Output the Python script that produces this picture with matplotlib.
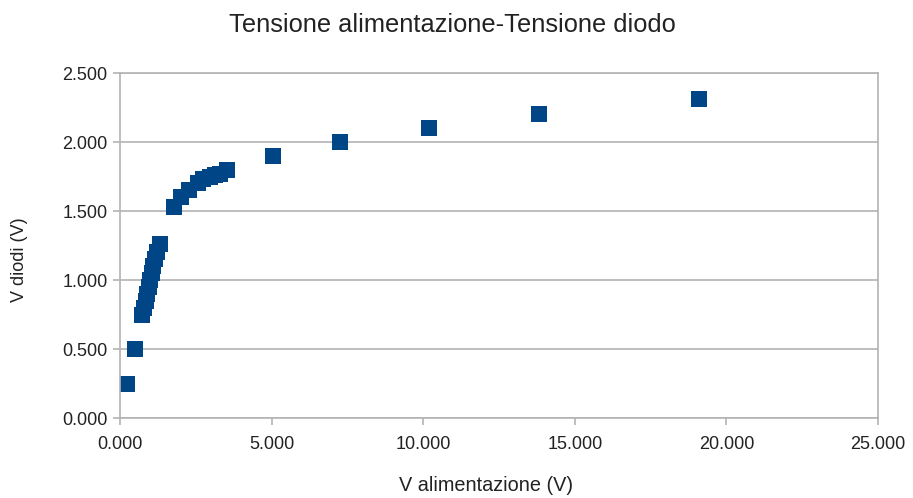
import matplotlib
matplotlib.use("Agg")
import matplotlib.pyplot as plt
from matplotlib.ticker import FuncFormatter, MultipleLocator

plt.rcParams['font.family'] = ['Liberation Sans', 'DejaVu Sans']

# supply voltage (V) and diode voltage (V)
v_alimentazione = [0.24, 0.50, 0.74, 0.80, 0.85, 0.90, 0.95, 1.00, 1.05, 1.10, 1.16, 1.22, 1.31,
                   1.78, 2.02, 2.27, 2.57, 2.74, 2.96, 3.12, 3.29, 3.54,
                   5.06, 7.27, 10.19, 13.83, 19.1]
v_diodi = [0.25, 0.50, 0.75, 0.80, 0.85, 0.90, 0.95, 1.00, 1.05, 1.10, 1.15, 1.20, 1.26,
           1.53, 1.60, 1.65, 1.70, 1.73, 1.75, 1.76, 1.77, 1.80,
           1.90, 2.00, 2.10, 2.20, 2.31]

title = "Tensione alimentazione-Tensione diodo"
xlabel = "V alimentazione (V)"
ylabel = "V diodi (V)"

fig = plt.figure(figsize=(9.13, 4.98), dpi=100)
ax = fig.add_axes([120 / 913, 1 - 418 / 498, 758 / 913, 345 / 498])

ax.plot(v_alimentazione, v_diodi, linestyle="none", marker="s", markersize=11.3,
        color="#004586", markeredgewidth=0)

ax.set_xlim(0, 25)
ax.set_ylim(0, 2.5)
ax.xaxis.set_major_locator(MultipleLocator(5))
ax.yaxis.set_major_locator(MultipleLocator(0.5))
fmt = FuncFormatter(lambda v, p: f"{v:.3f}")
ax.xaxis.set_major_formatter(fmt)
ax.yaxis.set_major_formatter(fmt)

ax.grid(axis="y", color="#b3b3b3", linewidth=1.2)
ax.set_axisbelow(True)
for s in ax.spines.values():
    s.set_color("#b3b3b3")
    s.set_linewidth(1.2)
ax.tick_params(axis="both", colors="#b3b3b3", labelcolor="#222222", labelsize=13,
               length=5, width=1.2, direction="out")
ax.tick_params(axis="x", pad=8)
ax.tick_params(axis="y", pad=4)

fig.text(452 / 913, 1 - 25 / 498, title, ha="center", va="center", fontsize=18.3, color="#222222")
fig.text(486 / 913, 1 - 485 / 498, xlabel, ha="center", va="center", fontsize=14.3, color="#222222")
fig.text(19 / 913, 1 - 260 / 498, ylabel, ha="center", va="center", fontsize=13,
         rotation=90, color="#222222")

fig.savefig("out.png", dpi=100)
